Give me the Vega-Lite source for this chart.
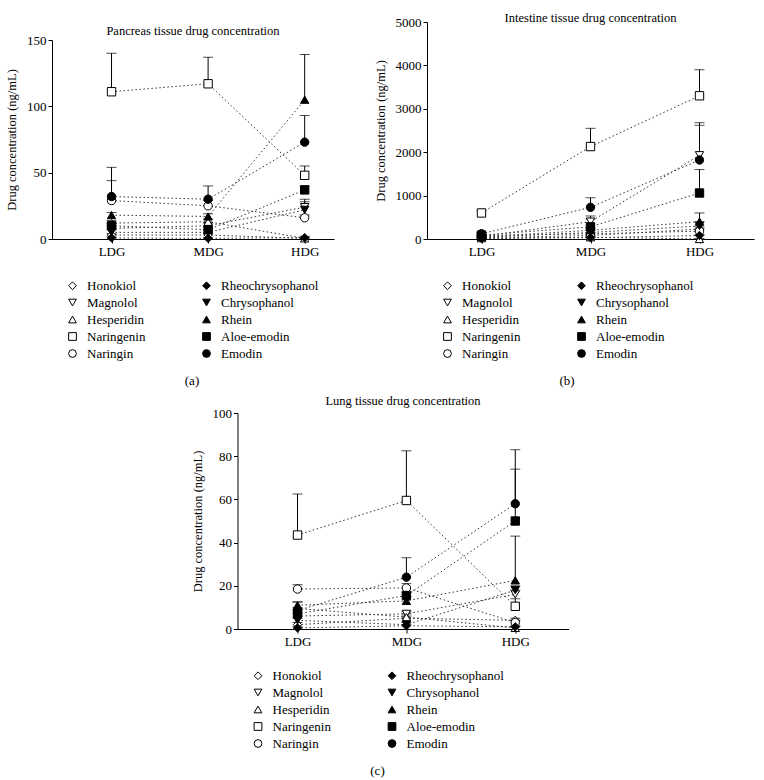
{
  "$schema": "https://vega.github.io/schema/vega-lite/v6.json",
  "padding": {"left": 5, "top": 11, "right": 5, "bottom": 0},
  "background": "white",
  "config": {
    "font": "Liberation Serif",
    "view": {"stroke": null},
    "title": {"font": "Liberation Serif", "fontSize": 12.5, "fontWeight": "normal", "color": "black", "anchor": "middle"},
    "axis": {"labelFont": "Liberation Serif", "labelFontSize": 13, "labelColor": "black", "titleFont": "Liberation Serif", "titleFontSize": 12.5, "titleFontWeight": "normal", "titleColor": "black", "titlePadding": 8, "domainColor": "black", "tickColor": "black", "tickSize": 4, "labelPadding": 2, "grid": false},
    "legend": {"orient": "bottom", "columns": 2, "labelFont": "Liberation Serif", "labelFontSize": 13, "labelColor": "black", "titleFont": "Liberation Serif", "titleFontSize": 13, "titleFontWeight": "normal", "titleColor": "black", "titleOrient": "bottom", "titleAnchor": "middle", "titlePadding": 14, "symbolSize": 60, "symbolStrokeColor": "black", "symbolStrokeWidth": 1, "rowPadding": 3, "columnPadding": 54, "labelOffset": 8, "padding": 14, "offset": 7}
  },
  "data": {"values": [
    {"t": "P", "c": "Honokiol", "d": "LDG", "v": 3, "u": 4},
    {"t": "P", "c": "Magnolol", "d": "LDG", "v": 8, "u": 10},
    {"t": "P", "c": "Hesperidin", "d": "LDG", "v": 12, "u": 14},
    {"t": "P", "c": "Naringenin", "d": "LDG", "v": 111, "u": 140},
    {"t": "P", "c": "Naringin", "d": "LDG", "v": 29, "u": 44},
    {"t": "P", "c": "Rheochrysophanol", "d": "LDG", "v": 0.8, "u": 1.5},
    {"t": "P", "c": "Chrysophanol", "d": "LDG", "v": 5, "u": 7},
    {"t": "P", "c": "Rhein", "d": "LDG", "v": 18, "u": 20},
    {"t": "P", "c": "Aloe-emodin", "d": "LDG", "v": 10, "u": 12},
    {"t": "P", "c": "Emodin", "d": "LDG", "v": 32, "u": 54},
    {"t": "P", "c": "Honokiol", "d": "MDG", "v": 3, "u": 4},
    {"t": "P", "c": "Magnolol", "d": "MDG", "v": 10, "u": 12},
    {"t": "P", "c": "Hesperidin", "d": "MDG", "v": 13, "u": 15},
    {"t": "P", "c": "Naringenin", "d": "MDG", "v": 117, "u": 137},
    {"t": "P", "c": "Naringin", "d": "MDG", "v": 25, "u": 29},
    {"t": "P", "c": "Rheochrysophanol", "d": "MDG", "v": 0.5, "u": 1},
    {"t": "P", "c": "Chrysophanol", "d": "MDG", "v": 5, "u": 7},
    {"t": "P", "c": "Rhein", "d": "MDG", "v": 17, "u": 19},
    {"t": "P", "c": "Aloe-emodin", "d": "MDG", "v": 7, "u": 9},
    {"t": "P", "c": "Emodin", "d": "MDG", "v": 30, "u": 40},
    {"t": "P", "c": "Honokiol", "d": "HDG", "v": 0.5, "u": 1},
    {"t": "P", "c": "Magnolol", "d": "HDG", "v": 24, "u": 30},
    {"t": "P", "c": "Hesperidin", "d": "HDG", "v": 0.5, "u": 1},
    {"t": "P", "c": "Naringenin", "d": "HDG", "v": 48, "u": 55},
    {"t": "P", "c": "Naringin", "d": "HDG", "v": 16, "u": 18},
    {"t": "P", "c": "Rheochrysophanol", "d": "HDG", "v": 1, "u": 2},
    {"t": "P", "c": "Chrysophanol", "d": "HDG", "v": 22, "u": 28},
    {"t": "P", "c": "Rhein", "d": "HDG", "v": 105, "u": 139},
    {"t": "P", "c": "Aloe-emodin", "d": "HDG", "v": 37, "u": 40},
    {"t": "P", "c": "Emodin", "d": "HDG", "v": 73, "u": 93},

    {"t": "I", "c": "Honokiol", "d": "LDG", "v": 30, "u": 40},
    {"t": "I", "c": "Magnolol", "d": "LDG", "v": 60, "u": 80},
    {"t": "I", "c": "Hesperidin", "d": "LDG", "v": 20, "u": 30},
    {"t": "I", "c": "Naringenin", "d": "LDG", "v": 600, "u": 650},
    {"t": "I", "c": "Naringin", "d": "LDG", "v": 80, "u": 100},
    {"t": "I", "c": "Rheochrysophanol", "d": "LDG", "v": 10, "u": 15},
    {"t": "I", "c": "Chrysophanol", "d": "LDG", "v": 40, "u": 50},
    {"t": "I", "c": "Rhein", "d": "LDG", "v": 50, "u": 60},
    {"t": "I", "c": "Aloe-emodin", "d": "LDG", "v": 90, "u": 110},
    {"t": "I", "c": "Emodin", "d": "LDG", "v": 120, "u": 150},
    {"t": "I", "c": "Honokiol", "d": "MDG", "v": 80, "u": 100},
    {"t": "I", "c": "Magnolol", "d": "MDG", "v": 400, "u": 530},
    {"t": "I", "c": "Hesperidin", "d": "MDG", "v": 40, "u": 60},
    {"t": "I", "c": "Naringenin", "d": "MDG", "v": 2130, "u": 2550},
    {"t": "I", "c": "Naringin", "d": "MDG", "v": 120, "u": 150},
    {"t": "I", "c": "Rheochrysophanol", "d": "MDG", "v": 30, "u": 40},
    {"t": "I", "c": "Chrysophanol", "d": "MDG", "v": 150, "u": 200},
    {"t": "I", "c": "Rhein", "d": "MDG", "v": 200, "u": 250},
    {"t": "I", "c": "Aloe-emodin", "d": "MDG", "v": 280, "u": 460},
    {"t": "I", "c": "Emodin", "d": "MDG", "v": 730, "u": 950},
    {"t": "I", "c": "Honokiol", "d": "HDG", "v": 230, "u": 280},
    {"t": "I", "c": "Magnolol", "d": "HDG", "v": 1930, "u": 2680},
    {"t": "I", "c": "Hesperidin", "d": "HDG", "v": 0, "u": 10},
    {"t": "I", "c": "Naringenin", "d": "HDG", "v": 3300, "u": 3900},
    {"t": "I", "c": "Naringin", "d": "HDG", "v": 180, "u": 230},
    {"t": "I", "c": "Rheochrysophanol", "d": "HDG", "v": 80, "u": 100},
    {"t": "I", "c": "Chrysophanol", "d": "HDG", "v": 300, "u": 400},
    {"t": "I", "c": "Rhein", "d": "HDG", "v": 400, "u": 600},
    {"t": "I", "c": "Aloe-emodin", "d": "HDG", "v": 1060, "u": 1600},
    {"t": "I", "c": "Emodin", "d": "HDG", "v": 1820, "u": 2620},

    {"t": "L", "c": "Honokiol", "d": "LDG", "v": 2, "u": 3},
    {"t": "L", "c": "Magnolol", "d": "LDG", "v": 6, "u": 7},
    {"t": "L", "c": "Hesperidin", "d": "LDG", "v": 9.5, "u": 12.5},
    {"t": "L", "c": "Naringenin", "d": "LDG", "v": 43.5, "u": 62.5},
    {"t": "L", "c": "Naringin", "d": "LDG", "v": 18.5, "u": 20.5},
    {"t": "L", "c": "Rheochrysophanol", "d": "LDG", "v": 0.5, "u": 1},
    {"t": "L", "c": "Chrysophanol", "d": "LDG", "v": 4, "u": 5},
    {"t": "L", "c": "Rhein", "d": "LDG", "v": 11, "u": 12.5},
    {"t": "L", "c": "Aloe-emodin", "d": "LDG", "v": 7, "u": 9},
    {"t": "L", "c": "Emodin", "d": "LDG", "v": 8.5, "u": 10},
    {"t": "L", "c": "Honokiol", "d": "MDG", "v": 5, "u": 6},
    {"t": "L", "c": "Magnolol", "d": "MDG", "v": 7, "u": 8},
    {"t": "L", "c": "Hesperidin", "d": "MDG", "v": 5.5, "u": 7},
    {"t": "L", "c": "Naringenin", "d": "MDG", "v": 59.5, "u": 82.5},
    {"t": "L", "c": "Naringin", "d": "MDG", "v": 19, "u": 21},
    {"t": "L", "c": "Rheochrysophanol", "d": "MDG", "v": 1.5, "u": 2},
    {"t": "L", "c": "Chrysophanol", "d": "MDG", "v": 2, "u": 3},
    {"t": "L", "c": "Rhein", "d": "MDG", "v": 13, "u": 15},
    {"t": "L", "c": "Aloe-emodin", "d": "MDG", "v": 15.5, "u": 17},
    {"t": "L", "c": "Emodin", "d": "MDG", "v": 24, "u": 33},
    {"t": "L", "c": "Honokiol", "d": "HDG", "v": 4, "u": 5},
    {"t": "L", "c": "Magnolol", "d": "HDG", "v": 16, "u": 18},
    {"t": "L", "c": "Hesperidin", "d": "HDG", "v": 0.5, "u": 1},
    {"t": "L", "c": "Naringenin", "d": "HDG", "v": 10.5, "u": 14},
    {"t": "L", "c": "Naringin", "d": "HDG", "v": 3, "u": 4},
    {"t": "L", "c": "Rheochrysophanol", "d": "HDG", "v": 1, "u": 1.5},
    {"t": "L", "c": "Chrysophanol", "d": "HDG", "v": 18, "u": 20},
    {"t": "L", "c": "Rhein", "d": "HDG", "v": 22.5, "u": 43},
    {"t": "L", "c": "Aloe-emodin", "d": "HDG", "v": 50, "u": 74},
    {"t": "L", "c": "Emodin", "d": "HDG", "v": 58, "u": 83}
  ]},
  "vconcat": [
    {
      "hconcat": [
        {
          "width": 282, "height": 217,
          "title": {"text": "Pancreas tissue drug concentration", "offset": -15},
          "transform": [{"filter": "datum.t == 'P'"}],
          "encoding": {
            "x": {"field": "d", "type": "ordinal", "sort": ["LDG", "MDG", "HDG"], "scale": {"type": "point", "padding": 0.46, "align": 0.67}, "axis": {"title": null, "labelAngle": 0}}
          },
          "layer": [
            {"mark": {"type": "line", "strokeDash": [1.5, 2.5], "strokeWidth": 1, "color": "#333333"},
             "encoding": {"y": {"field": "v", "type": "quantitative", "title": "Drug concentration (ng/mL)", "scale": {"domain": [0, 150], "nice": false, "range": [217, 18]}, "axis": {"values": [0, 50, 100, 150], "format": "d"}}, "detail": {"field": "c"}, "order": {"value": null}}},
            {"mark": {"type": "rule", "color": "black", "strokeWidth": 1},
             "encoding": {"y": {"field": "v", "type": "quantitative", "title": "Drug concentration (ng/mL)"}, "y2": {"field": "u"}}},
            {"mark": {"type": "tick", "color": "black", "size": 10, "thickness": 1},
             "encoding": {"y": {"field": "u", "type": "quantitative", "title": "Drug concentration (ng/mL)"}}},
            {"mark": {"type": "point", "filled": true, "strokeWidth": 1, "size": 70, "opacity": 1},
             "encoding": {
               "y": {"field": "v", "type": "quantitative", "title": "Drug concentration (ng/mL)"},
               "shape": {"field": "c", "type": "nominal", "title": "(a)", "legend": {"labelFont": "Liberation Serif", "labelFontSize": 13, "titleFont": "Liberation Serif"}, "scale": {"domain": ["Honokiol", "Rheochrysophanol", "Magnolol", "Chrysophanol", "Hesperidin", "Rhein", "Naringenin", "Aloe-emodin", "Naringin", "Emodin"], "range": ["diamond", "diamond", "triangle-down", "triangle-down", "triangle-up", "triangle-up", "square", "square", "circle", "circle"]}},
               "fill": {"field": "c", "type": "nominal", "title": "(a)", "scale": {"domain": ["Honokiol", "Rheochrysophanol", "Magnolol", "Chrysophanol", "Hesperidin", "Rhein", "Naringenin", "Aloe-emodin", "Naringin", "Emodin"], "range": ["white", "black", "white", "black", "white", "black", "white", "black", "white", "black"]}},
               "stroke": {"field": "c", "type": "nominal", "title": "(a)", "scale": {"domain": ["Honokiol", "Rheochrysophanol", "Magnolol", "Chrysophanol", "Hesperidin", "Rhein", "Naringenin", "Aloe-emodin", "Naringin", "Emodin"], "range": ["black", "black", "black", "black", "black", "black", "black", "black", "black", "black"]}}
             }}
          ]
        },
        {
          "width": 327, "height": 217,
          "title": {"text": "Intestine tissue drug concentration", "offset": -8},
          "transform": [{"filter": "datum.t == 'I'"}],
          "encoding": {
            "x": {"field": "d", "type": "ordinal", "sort": ["LDG", "MDG", "HDG"], "scale": {"type": "point", "padding": 0.5}, "axis": {"title": null, "labelAngle": 0}}
          },
          "layer": [
            {"mark": {"type": "line", "strokeDash": [1.5, 2.5], "strokeWidth": 1, "color": "#333333"},
             "encoding": {"y": {"field": "v", "type": "quantitative", "title": "Drug concentration (ng/mL)", "scale": {"domain": [0, 5000], "nice": false}, "axis": {"values": [0, 1000, 2000, 3000, 4000, 5000], "format": "d"}}, "detail": {"field": "c"}, "order": {"value": null}}},
            {"mark": {"type": "rule", "color": "black", "strokeWidth": 1},
             "encoding": {"y": {"field": "v", "type": "quantitative", "title": "Drug concentration (ng/mL)"}, "y2": {"field": "u"}}},
            {"mark": {"type": "tick", "color": "black", "size": 10, "thickness": 1},
             "encoding": {"y": {"field": "u", "type": "quantitative", "title": "Drug concentration (ng/mL)"}}},
            {"mark": {"type": "point", "filled": true, "strokeWidth": 1, "size": 70, "opacity": 1},
             "encoding": {
               "y": {"field": "v", "type": "quantitative", "title": "Drug concentration (ng/mL)"},
               "shape": {"field": "c", "type": "nominal", "title": "(b)", "legend": {"labelFont": "Liberation Serif", "labelFontSize": 13, "titleFont": "Liberation Serif"}, "scale": {"domain": ["Honokiol", "Rheochrysophanol", "Magnolol", "Chrysophanol", "Hesperidin", "Rhein", "Naringenin", "Aloe-emodin", "Naringin", "Emodin"], "range": ["diamond", "diamond", "triangle-down", "triangle-down", "triangle-up", "triangle-up", "square", "square", "circle", "circle"]}},
               "fill": {"field": "c", "type": "nominal", "title": "(b)", "scale": {"domain": ["Honokiol", "Rheochrysophanol", "Magnolol", "Chrysophanol", "Hesperidin", "Rhein", "Naringenin", "Aloe-emodin", "Naringin", "Emodin"], "range": ["white", "black", "white", "black", "white", "black", "white", "black", "white", "black"]}},
               "stroke": {"field": "c", "type": "nominal", "title": "(b)", "scale": {"domain": ["Honokiol", "Rheochrysophanol", "Magnolol", "Chrysophanol", "Hesperidin", "Rhein", "Naringenin", "Aloe-emodin", "Naringin", "Emodin"], "range": ["black", "black", "black", "black", "black", "black", "black", "black", "black", "black"]}}
             }}
          ]
        }
      ],
      "spacing": 93,
      "bounds": "flush",
      "resolve": {"scale": {"shape": "independent", "fill": "independent", "stroke": "independent"}, "legend": {"shape": "independent", "fill": "independent", "stroke": "independent"}}
    },
    {
      "width": 331, "height": 216,
      "title": {"text": "Lung tissue drug concentration", "offset": 0},
      "transform": [{"filter": "datum.t == 'L'"}],
      "encoding": {
        "x": {"field": "d", "type": "ordinal", "sort": ["LDG", "MDG", "HDG"], "scale": {"type": "point", "padding": 0.52, "align": 0.53}, "axis": {"title": null, "labelAngle": 0}}
      },
      "layer": [
        {"mark": {"type": "line", "strokeDash": [1.5, 2.5], "strokeWidth": 1, "color": "#333333"},
         "encoding": {"y": {"field": "v", "type": "quantitative", "title": "Drug concentration (ng/mL)", "scale": {"domain": [0, 100], "nice": false}, "axis": {"values": [0, 20, 40, 60, 80, 100], "format": "d"}}, "detail": {"field": "c"}, "order": {"value": null}}},
        {"mark": {"type": "rule", "color": "black", "strokeWidth": 1},
         "encoding": {"y": {"field": "v", "type": "quantitative", "title": "Drug concentration (ng/mL)"}, "y2": {"field": "u"}}},
        {"mark": {"type": "tick", "color": "black", "size": 10, "thickness": 1},
         "encoding": {"y": {"field": "u", "type": "quantitative", "title": "Drug concentration (ng/mL)"}}},
        {"mark": {"type": "point", "filled": true, "strokeWidth": 1, "size": 70, "opacity": 1},
         "encoding": {
           "y": {"field": "v", "type": "quantitative", "title": "Drug concentration (ng/mL)"},
           "shape": {"field": "c", "type": "nominal", "title": "(c)", "legend": {"labelFont": "Liberation Serif", "labelFontSize": 13, "titleFont": "Liberation Serif"}, "scale": {"domain": ["Honokiol", "Rheochrysophanol", "Magnolol", "Chrysophanol", "Hesperidin", "Rhein", "Naringenin", "Aloe-emodin", "Naringin", "Emodin"], "range": ["diamond", "diamond", "triangle-down", "triangle-down", "triangle-up", "triangle-up", "square", "square", "circle", "circle"]}},
           "fill": {"field": "c", "type": "nominal", "title": "(c)", "scale": {"domain": ["Honokiol", "Rheochrysophanol", "Magnolol", "Chrysophanol", "Hesperidin", "Rhein", "Naringenin", "Aloe-emodin", "Naringin", "Emodin"], "range": ["white", "black", "white", "black", "white", "black", "white", "black", "white", "black"]}},
           "stroke": {"field": "c", "type": "nominal", "title": "(c)", "scale": {"domain": ["Honokiol", "Rheochrysophanol", "Magnolol", "Chrysophanol", "Hesperidin", "Rhein", "Naringenin", "Aloe-emodin", "Naringin", "Emodin"], "range": ["black", "black", "black", "black", "black", "black", "black", "black", "black", "black"]}}
         }}
      ]
    }
  ],
  "spacing": -8,
  "center": true,
  "resolve": {"scale": {"shape": "independent", "fill": "independent", "stroke": "independent"}, "legend": {"shape": "independent", "fill": "independent", "stroke": "independent"}}
}
